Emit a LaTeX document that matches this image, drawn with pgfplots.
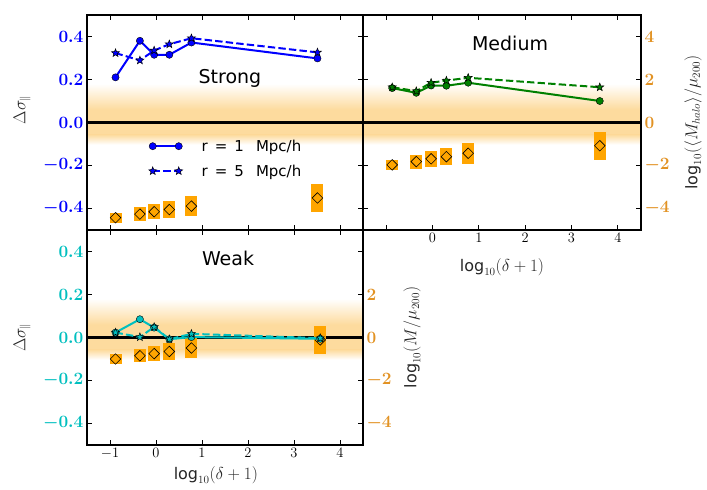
\documentclass[border=0pt]{standalone}
\usepackage{pgfplots}
\pgfplotsset{compat=1.18}
\usepackage{pgfplotstable}
\usepackage{fontspec}
\newfontfamily\dv{DejaVu Sans}

\definecolor{mblue}{rgb}{0,0,1}
\definecolor{mgreen}{rgb}{0,0.5,0}
\definecolor{mcyan}{rgb}{0,0.75,0.75}
\definecolor{morange}{rgb}{1,0.647,0}
\definecolor{olab}{RGB}{226,146,35}
\definecolor{bandc}{RGB}{253,219,158}

\pgfdeclareplotmark{fstar}{%
 \pgfpathmoveto{\pgfpointpolar{90}{\pgfplotmarksize}}%
 \pgfpathlineto{\pgfpointpolar{126}{0.42\pgfplotmarksize}}%
 \pgfpathlineto{\pgfpointpolar{162}{\pgfplotmarksize}}%
 \pgfpathlineto{\pgfpointpolar{198}{0.42\pgfplotmarksize}}%
 \pgfpathlineto{\pgfpointpolar{234}{\pgfplotmarksize}}%
 \pgfpathlineto{\pgfpointpolar{270}{0.42\pgfplotmarksize}}%
 \pgfpathlineto{\pgfpointpolar{306}{\pgfplotmarksize}}%
 \pgfpathlineto{\pgfpointpolar{342}{0.42\pgfplotmarksize}}%
 \pgfpathlineto{\pgfpointpolar{18}{\pgfplotmarksize}}%
 \pgfpathlineto{\pgfpointpolar{54}{0.42\pgfplotmarksize}}%
 \pgfpathclose
 \pgfusepathqfillstroke
}

\pgfplotstableread{
x c s d e
-0.88 0.210 0.323 -4.43 0.24
-0.35 0.380 0.289 -4.26 0.32
-0.04 0.315 0.335 -4.15 0.34
0.29 0.315 0.364 -4.05 0.40
0.77 0.372 0.392 -3.89 0.47
3.51 0.298 0.326 -3.51 0.67
}\strong
\pgfplotstableread{
x c s d e
-0.87 0.160 0.164 -1.97 0.23
-0.35 0.138 0.146 -1.82 0.33
-0.03 0.172 0.185 -1.69 0.37
0.30 0.171 0.195 -1.59 0.40
0.77 0.185 0.208 -1.43 0.48
3.61 0.100 0.164 -1.08 0.65
}\medium
\pgfplotstableread{
x c s d e
-0.88 0.023 0.023 -1.00 0.23
-0.35 0.085 0.002 -0.85 0.31
-0.04 0.046 0.049 -0.75 0.35
0.29 -0.008 -0.008 -0.65 0.38
0.77 0.002 0.017 -0.49 0.48
3.57 -0.006 -0.003 -0.11 0.64
}\weak

\pgfplotsset{
 panel/.style={scale only axis, height=215pt, xmin=-1.5, xmax=4.5, xtick={-1,0,1,2,3,4},
   tick align=inside, major tick length=5pt, tick style={black, line width=0.8pt},
   axis line style={line width=1.8pt},
   xticklabel style={font=\fontsize{14}{14}\selectfont},
   label style={font=\fontsize{16}{16}\selectfont, text=black!85}},
 lpanel/.style={panel, ymin=-0.5, ymax=0.5, ytick={-0.4,-0.2,0,0.2,0.4},
   yticklabel style={font=\fontsize{17}{17}\selectfont\boldmath,
     /pgf/number format/fixed, /pgf/number format/fixed zerofill, /pgf/number format/precision=1}},
 rpanel/.style={panel, ymin=-5, ymax=5, hide x axis, axis line style={draw=none}, ytick style={draw=none},
   ytick pos=right, yticklabel pos=right,
   yticklabel style={font=\fontsize{17}{17}\selectfont\boldmath, text=olab}},
 boxstyle/.style={draw=none, mark=none, error bars/.cd, y dir=both, y explicit, error mark=none,
   error bar style={line width=12pt, draw=morange, solid}},
 diastyle/.style={only marks, mark=square, mark size=3.75pt, mark options={rotate=45, draw=black, fill=none, line width=0.6pt}},
 circ/.style={#1, line width=2pt, mark=*, mark size=3.6pt, mark options={fill=#1, draw=black, line width=0.4pt, solid}},
 starl/.style={#1, line width=2pt, dash pattern=on 7.4pt off 3.2pt, mark=fstar, mark size=4.2pt, mark options={fill=#1, draw=black, line width=0.5pt, solid}},
}

\newcommand{\band}{%
 \addplot[draw=none, top color=white, bottom color=bandc] coordinates {(-1.5,1.8) (4.5,1.8) (4.5,0.6) (-1.5,0.6)};
 \addplot[draw=none, fill=bandc] coordinates {(-1.5,0.6) (4.5,0.6) (4.5,-0.57) (-1.5,-0.57)};
 \addplot[draw=none, top color=bandc, bottom color=white] coordinates {(-1.5,-0.57) (4.5,-0.57) (4.5,-1.03) (-1.5,-1.03)};
 \addplot[black, line width=3.5pt] coordinates {(-1.5,0) (4.5,0)};
}

\begin{document}
\begin{tikzpicture}
\useasboundingbox (0pt,0pt) rectangle (707pt,490pt);

% ---------- Top-left: Strong ----------
\begin{axis}[rpanel, width=276pt, at={(87pt,260pt)}, anchor=south west, hide axis]
 \band
 \addplot[boxstyle] table[x=x, y=d, y error=e] {\strong};
 \addplot[diastyle] table[x=x, y=d] {\strong};
\end{axis}
\begin{axis}[lpanel, width=276pt, at={(87pt,260pt)}, anchor=south west,
  xticklabels={}, yticklabel style={text=mblue},
  ylabel={$\Delta\sigma_{\parallel}$},
  ylabel style={at={(axis description cs:-0.235,0.56)}, anchor=center},
  legend style={at={(axis description cs:0.223,0.43)}, anchor=north west, draw=none, fill=none,
    font=\dv\fontsize{15}{15}\selectfont, row sep=8pt, inner sep=0pt,
    /tikz/every odd column/.append style={column sep=17pt}},
  legend image code/.code={\draw[#1] plot coordinates {(0pt,0pt) (26pt,0pt)};}]
 \addplot[circ=mblue] table[x=x, y=c] {\strong};
 \addlegendentry{r\hspace{7pt}=\hspace{7pt}1\hspace{12pt}Mpc/h}
 \addplot[starl=mblue] table[x=x, y=s] {\strong};
 \addlegendentry{r\hspace{7pt}=\hspace{7pt}5\hspace{12pt}Mpc/h}
 \node[font=\dv\fontsize{19}{19}\selectfont] at (axis description cs:0.518,0.705) {Strong};
\end{axis}

% ---------- Top-right: Medium ----------
\begin{axis}[rpanel, width=278pt, at={(363pt,260pt)}, anchor=south west,
  ytick={-4,-2,0,2,4},
  ylabel={$\mbox{\dv log}_{10}(\langle M_{halo}\rangle/\mu_{200})$},
  ylabel style={at={(axis description cs:1.187,0.5)}, anchor=center}]
 \band
 \addplot[boxstyle] table[x=x, y=d, y error=e] {\medium};
 \addplot[diastyle] table[x=x, y=d] {\medium};
\end{axis}
\begin{axis}[lpanel, width=278pt, at={(363pt,260pt)}, anchor=south west,
  yticklabels={}, xticklabels={,$0$,$1$,$2$,$3$,$4$},
  xlabel={$\mbox{\dv log}_{10}(\delta+1)$},
  xlabel style={at={(axis description cs:0.5,-0.172)}, anchor=center}]
 \addplot[circ=mgreen] table[x=x, y=c] {\medium};
 \addplot[starl=mgreen] table[x=x, y=s] {\medium};
 \node[font=\dv\fontsize{19}{19}\selectfont] at (axis description cs:0.529,0.87) {Medium};
\end{axis}

% ---------- Bottom-left: Weak ----------
\begin{axis}[rpanel, width=276pt, at={(87pt,45pt)}, anchor=south west,
  ytick={-4,-2,0,2},
  ylabel={$\mbox{\dv log}_{10}(M/\mu_{200})$},
  ylabel style={at={(axis description cs:1.178,0.5)}, anchor=center}]
 \band
 \addplot[boxstyle] table[x=x, y=d, y error=e] {\weak};
 \addplot[diastyle] table[x=x, y=d] {\weak};
\end{axis}
\begin{axis}[lpanel, width=276pt, at={(87pt,45pt)}, anchor=south west,
  yticklabel style={text=mcyan},
  ylabel={$\Delta\sigma_{\parallel}$},
  ylabel style={at={(axis description cs:-0.235,0.5)}, anchor=center},
  xlabel={$\mbox{\dv log}_{10}(\delta+1)$},
  xlabel style={at={(axis description cs:0.467,-0.14)}, anchor=center}]
 \addplot[circ=mcyan] table[x=x, y=c] {\weak};
 \addplot[starl=mcyan] table[x=x, y=s] {\weak};
 \node[font=\dv\fontsize{19}{19}\selectfont] at (axis description cs:0.511,0.87) {Weak};
\end{axis}
\end{tikzpicture}
\end{document}
